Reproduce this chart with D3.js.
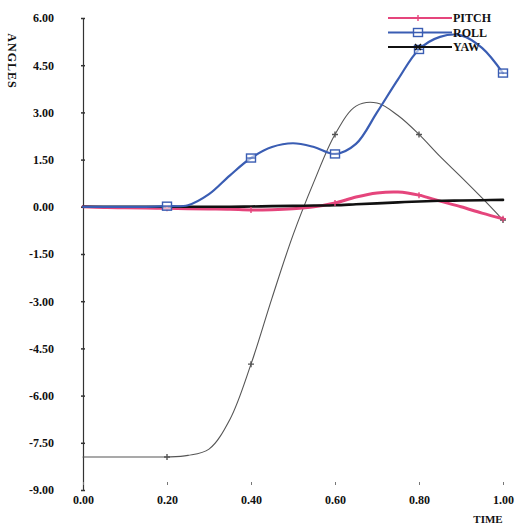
<!DOCTYPE html>
<html>
<head>
<meta charset="utf-8">
<script src="https://cdn.jsdelivr.net/npm/d3@7"></script>
<style>
  html, body { margin: 0; padding: 0; background: #ffffff; }
  svg { display: block; }
  text { font-family: "Liberation Serif", "DejaVu Serif", serif; font-weight: bold; fill: #111; }
</style>
</head>
<body>
<div id="chart"></div>
<script>
// ---- data ----
const times    = [0, 0.05, 0.1, 0.15, 0.2, 0.25, 0.3, 0.35, 0.4, 0.45, 0.5, 0.55, 0.6, 0.65, 0.7, 0.75, 0.8, 0.85, 0.9, 0.95, 1.0];
const pitch    = [0, -0.02, -0.03, -0.04, -0.05, -0.06, -0.07, -0.08, -0.1, -0.09, -0.06, 0, 0.12, 0.31, 0.44, 0.47, 0.37, 0.18, 0, -0.2, -0.38];
const roll     = [0, 0, 0, 0, 0.02, 0.05, 0.4, 1.0, 1.55, 1.9, 2.02, 1.9, 1.68, 2.0, 3.0, 4.05, 5.0, 5.4, 5.45, 5.05, 4.25];
const yaw      = [0, 0, 0, 0, 0, 0, 0, 0, 0.01, 0.02, 0.03, 0.04, 0.05, 0.08, 0.11, 0.14, 0.17, 0.19, 0.2, 0.21, 0.22];
const response = [-7.95, -7.95, -7.95, -7.95, -7.95, -7.9, -7.7, -6.75, -5.0, -2.9, -0.9, 0.8, 2.3, 3.2, 3.3, 2.9, 2.3, 1.6, 0.95, 0.28, -0.42];
const markerTimes = [0.2, 0.4, 0.6, 0.8, 1.0];
const legendNames = ["PITCH", "ROLL", "YAW"];
const yTicks = [6, 4.5, 3, 1.5, 0, -1.5, -3, -4.5, -6, -7.5, -9];
const xTicks = [0, 0.2, 0.4, 0.6, 0.8, 1.0];
const yTitle = "ANGLES";
const xTitle = "TIME";

// ---- drawing ----
const W = 518, H = 531;
const svg = d3.select("#chart").append("svg").attr("width", W).attr("height", H);
svg.append("rect").attr("width", W).attr("height", H).attr("fill", "#fff");

const x = d3.scaleLinear().domain([0, 1]).range([83, 503]);
const y = d3.scaleLinear().domain([-9, 6]).range([490, 18]);
const fmt = d => d.toFixed(2);

// Y axis
const ya = svg.append("g").attr("transform", "translate(83,0)")
  .call(d3.axisLeft(y).tickValues(yTicks).tickSize(3).tickSizeOuter(0).tickPadding(26).tickFormat(fmt));
ya.select(".domain").attr("stroke", "#333").attr("stroke-width", 1.2);
ya.selectAll(".tick line").attr("stroke", "#333").attr("x1", -2).attr("x2", 2).attr("stroke-width", 1.5);
ya.selectAll(".tick text").style("font-family", '"Liberation Serif", serif').style("font-weight", "bold").style("font-size", "12px").attr("fill", "#111");

// X axis (ticks + labels, no baseline)
const xa = svg.append("g").attr("transform", "translate(0,482)")
  .call(d3.axisBottom(x).tickValues(xTicks).tickSize(3).tickSizeOuter(0).tickPadding(10).tickFormat(fmt));
xa.select(".domain").remove();
xa.selectAll(".tick line").attr("stroke", "#777");
xa.selectAll(".tick text").style("font-family", '"Liberation Serif", serif').style("font-weight", "bold").style("font-size", "12px").attr("fill", "#111");

// titles
svg.append("text").attr("transform", "translate(8,61) rotate(90)")
  .attr("text-anchor", "middle").style("font-size", "12px").attr("letter-spacing", "1").text(yTitle);
svg.append("text").attr("x", 488).attr("y", 523).attr("text-anchor", "middle")
  .style("font-size", "11px").text(xTitle);

const curve = d3.curveCatmullRom.alpha(0.5);
const mkLine = vals => d3.line().curve(curve).x((d, i) => x(times[i])).y(d => y(d))(vals);

const series = [
  { vals: response, color: "#555", width: 1.1, marker: "plus" },
  { vals: pitch, color: "#e5457c", width: 3, marker: "plus" },
  { vals: yaw, color: "#111", width: 2.6, marker: null },
  { vals: roll, color: "#3a5db3", width: 2.2, marker: "box" }
];

function drawMarker(g, kind, cx, cy, color) {
  if (kind === "plus") {
    g.append("path").attr("d", `M${cx-3},${cy}H${cx+3}M${cx},${cy-3}V${cy+3}`)
      .attr("stroke", color).attr("stroke-width", 1.4).attr("fill", "none");
  } else if (kind === "box") {
    g.append("rect").attr("x", cx - 4.5).attr("y", cy - 4).attr("width", 9).attr("height", 8)
      .attr("fill", "rgba(255,255,255,0.6)").attr("stroke", color).attr("stroke-width", 1.4);
    g.append("path").attr("d", `M${cx-4.5},${cy}H${cx+4.5}`).attr("stroke", color).attr("stroke-width", 1.2);
  } else if (kind === "x") {
    g.append("path").attr("d", `M${cx-3},${cy-3}L${cx+3},${cy+3}M${cx+3},${cy-3}L${cx-3},${cy+3}`)
      .attr("stroke", color).attr("stroke-width", 1.4);
  }
}

series.forEach(s => {
  svg.append("path").attr("d", mkLine(s.vals)).attr("fill", "none")
    .attr("stroke", s.color).attr("stroke-width", s.width).attr("stroke-linejoin", "round").attr("stroke-linecap", "round");
});
series.forEach(s => {
  if (!s.marker) return;
  const g = svg.append("g");
  markerTimes.forEach(t => {
    const i = times.findIndex(v => Math.abs(v - t) < 1e-9);
    drawMarker(g, s.marker, x(t), y(s.vals[i]), s.color);
  });
});

// legend
const legend = [
  { name: legendNames[0], color: "#e5457c", width: 2, marker: "plus" },
  { name: legendNames[1], color: "#3a5db3", width: 2, marker: "box" },
  { name: legendNames[2], color: "#111", width: 2, marker: "x" }
];
const lg = svg.append("g");
legend.forEach((l, k) => {
  const ly = 18 + k * 14.5;
  lg.append("line").attr("x1", 388).attr("x2", 452).attr("y1", ly).attr("y2", ly)
    .attr("stroke", l.color).attr("stroke-width", l.width);
  drawMarker(lg, l.marker, 418, ly, l.color);
  lg.append("text").attr("x", 453).attr("y", ly + 4).style("font-size", "12px").text(l.name);
});
</script>
</body>
</html>
